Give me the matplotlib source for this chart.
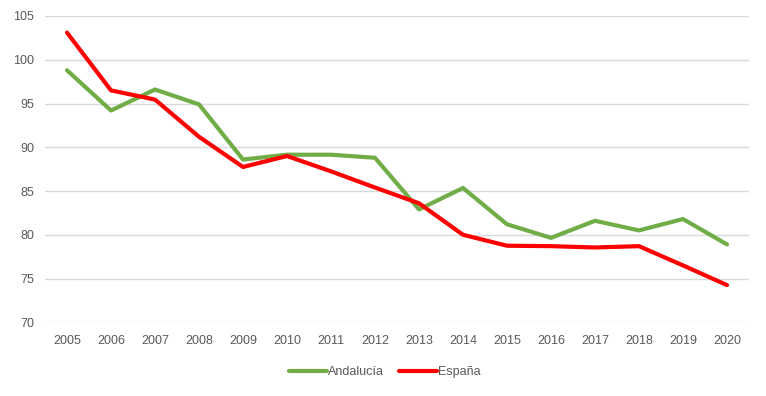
import matplotlib.pyplot as plt

years = ['2005', '2006', '2007', '2008', '2009', '2010', '2011', '2012',
         '2013', '2014', '2015', '2016', '2017', '2018', '2019', '2020']
andalucia = [98.8, 94.2, 96.6, 94.9, 88.6, 89.15, 89.15, 88.8,
             82.9, 85.35, 81.2, 79.65, 81.6, 80.5, 81.8, 78.9]
espana = [103.1, 96.5, 95.45, 91.2, 87.75, 89.0, 87.25, 85.4,
          83.6, 80.0, 78.75, 78.7, 78.55, 78.7, 76.5, 74.25]


def main():
    plt.rcParams['font.family'] = ['Liberation Sans', 'DejaVu Sans']
    fig = plt.figure(figsize=(7.66, 3.96), dpi=100)
    ax = fig.add_axes([45 / 766, 1 - 322.3 / 396, 704 / 766, 306.3 / 396])

    x = range(len(years))
    ax.plot(x, andalucia, color='#70AD47', lw=3, label='Andalucía',
            solid_capstyle='round', solid_joinstyle='round')
    ax.plot(x, espana, color='#FF0000', lw=3, label='España',
            solid_capstyle='round', solid_joinstyle='round')

    ax.set_xlim(-0.5, len(years) - 0.5)
    ax.set_ylim(70, 105)
    ax.set_yticks(range(70, 106, 5))
    ax.set_xticks(list(x))
    ax.set_xticklabels(years)
    ax.grid(axis='y', color='#D9D9D9', lw=1)
    ax.set_axisbelow(True)
    for s in ax.spines.values():
        s.set_visible(False)
    ax.tick_params(length=0, labelsize=9, labelcolor='#595959')
    ax.tick_params(axis='x', pad=9)
    ax.tick_params(axis='y', pad=8)

    fig.legend(loc='center', bbox_to_anchor=(385 / 766, 1 - 372 / 396),
               ncol=2, frameon=False, fontsize=9, handlelength=3,
               handletextpad=0.1, columnspacing=1.2, labelcolor='#595959')

    plt.savefig('out.png', dpi=100)


if __name__ == "__main__":
    main()
